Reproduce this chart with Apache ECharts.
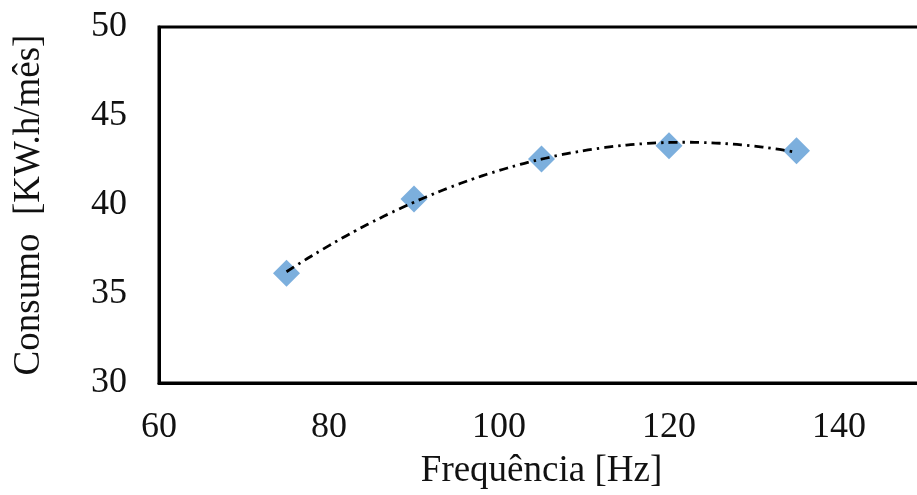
<!DOCTYPE html>
<html><head><meta charset="utf-8">
<script src="https://cdn.jsdelivr.net/npm/echarts@6/dist/echarts.min.js"></script>
<style>html,body{margin:0;padding:0;background:#fff}#c{width:917px;height:495px}</style>
</head><body><div id="c"></div>
<script>
const frequencias = [75, 90, 105, 120, 135];
const consumo = [36.16, 40.34, 42.58, 43.33, 43.05];
const xTicks = [60, 80, 100, 120, 140];
const yTicks = [30, 35, 40, 45, 50];

// Quadratic least-squares trendline (as in the original spreadsheet trendline)
function polyFit2(xs, ys) {
  let n = xs.length, s = [0,0,0,0,0], t = [0,0,0];
  for (let i = 0; i < n; i++) {
    let p = 1;
    for (let k = 0; k < 5; k++) { s[k] += p; if (k < 3) t[k] += p * ys[i]; p *= xs[i]; }
  }
  const A = [[s[0],s[1],s[2],t[0]],[s[1],s[2],s[3],t[1]],[s[2],s[3],s[4],t[2]]];
  for (let i = 0; i < 3; i++) {
    for (let j = i + 1; j < 3; j++) {
      const f = A[j][i] / A[i][i];
      for (let k = i; k < 4; k++) A[j][k] -= f * A[i][k];
    }
  }
  const c = [0,0,0];
  for (let i = 2; i >= 0; i--) {
    let v = A[i][3];
    for (let k = i + 1; k < 3; k++) v -= A[i][k] * c[k];
    c[i] = v / A[i][i];
  }
  return c;
}
const coef = polyFit2(frequencias, consumo);
const trend = [];
for (let x = frequencias[0]; x <= frequencias[frequencias.length - 1] + 1e-9; x += 1) {
  trend.push([x, coef[0] + coef[1] * x + coef[2] * x * x]);
}

const font = "'Liberation Serif', serif";
const chart = echarts.init(document.getElementById('c'), null, {renderer: 'canvas'});
chart.setOption({
  animation: false,
  grid: {left: 159, top: 27, width: 765, height: 356, outerBoundsMode: 'none', containLabel: false,
    show: true, borderColor: '#000', borderWidth: 3, backgroundColor: 'transparent'},
  xAxis: {
    type: 'value', min: 60, max: 150, interval: 20,
    axisLine: {show: true, lineStyle: {color: '#000', width: 3}},
    axisTick: {show: false}, splitLine: {show: false},
    axisLabel: {fontFamily: font, fontSize: 36, color: '#111', margin: 27,
      formatter: v => xTicks.includes(v) ? String(v) : ''},
    name: 'Frequência [Hz]', nameLocation: 'middle', nameGap: 70,
    nameTextStyle: {fontFamily: font, fontSize: 37, color: '#111'}
  },
  yAxis: {
    type: 'value', min: 30, max: 50, interval: 5,
    axisLine: {show: true, lineStyle: {color: '#000', width: 3}},
    axisTick: {show: false}, splitLine: {show: false},
    axisLabel: {fontFamily: font, fontSize: 36, color: '#111', margin: 32,
      formatter: v => yTicks.includes(v) ? String(v) : ''},
    name: 'Consumo  [KW.h/mês]', nameLocation: 'middle', nameGap: 111,
    nameTextStyle: {fontFamily: font, fontSize: 37, color: '#111'}
  },
  series: [
    {type: 'line', data: trend, showSymbol: false, smooth: true, z: 3,
      lineStyle: {color: '#000', width: 2.8, type: [9, 5, 2.5, 5]}},
    {type: 'scatter', data: frequencias.map((x, i) => [x, consumo[i]]), symbol: 'diamond', symbolSize: [27, 27], z: 2,
      itemStyle: {color: '#5B9BD5'}}
  ]
});
</script></body></html>
